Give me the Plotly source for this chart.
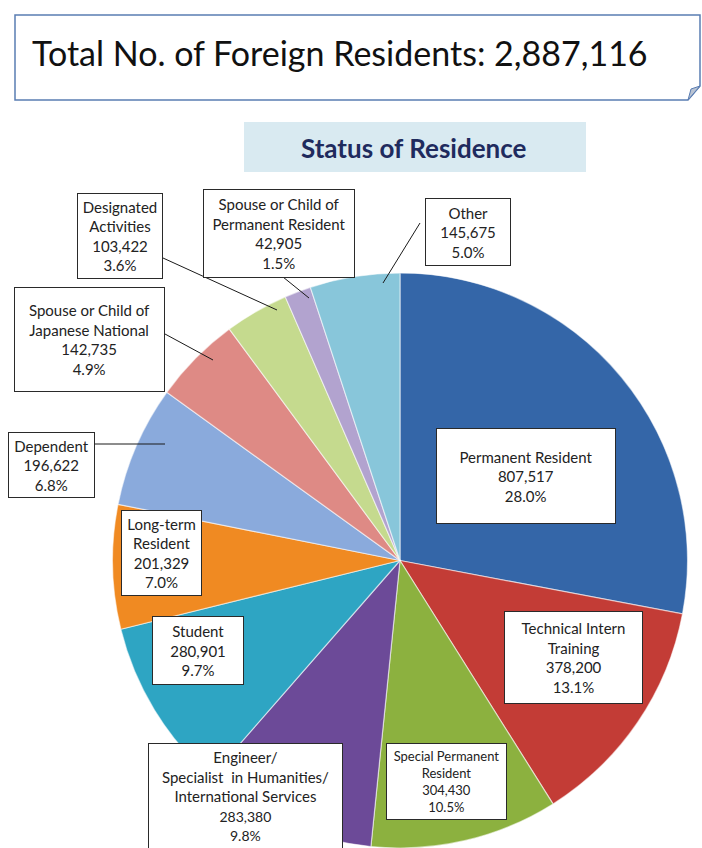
import plotly.graph_objects as go

W, H = 702, 848

# ── Data ────────────────────────────────────────────────────
categories = [
    "Permanent Resident", "Technical Intern Training", "Special Permanent Resident",
    "Engineer/Specialist in Humanities/International Services", "Student",
    "Long-term Resident", "Dependent", "Spouse or Child of Japanese National",
    "Designated Activities", "Spouse or Child of Permanent Resident", "Other",
]
values = [807517, 378200, 304430, 283380, 280901, 201329, 196622, 142735, 103422, 42905, 145675]
box_titles = [
    "Permanent Resident", "Technical Intern<br>Training", "Special Permanent<br>Resident",
    "Engineer/<br>Specialist  in Humanities/<br>International Services", "Student",
    "Long-term<br>Resident", "Dependent", "Spouse or Child of<br>Japanese National",
    "Designated<br>Activities", "Spouse or Child of<br>Permanent Resident", "Other",
]
colors = ["#3466a8", "#c33c36", "#8cb13f", "#6c4a98", "#2ea5c3", "#f08a22",
          "#8aaadc", "#de8a85", "#c5da8e", "#b2a3cf", "#88c6da"]

total = sum(values)

# ── Label boxes (pixels: centre x, centre y, width, height, font size, number size) ──
boxes = [
    (526, 476, 180, 96, 15, 15),
    (573, 657, 139, 93, 15, 15),
    (446, 781, 121, 77, 13, 13),
    (245, 796, 195, 106, 15, 14),
    (198, 650, 92, 69, 15, 15),
    (161, 553, 81, 86, 15, 15),
    (51, 465, 87, 66, 15, 15),
    (90, 339, 151, 105, 15, 15),
    (120, 236, 86, 86, 15, 15),
    (279, 233, 152, 89, 15, 15),
    (468, 232, 86, 68, 15, 15),
]
# leader lines (pixels)
leaders = [
    (94, 444, 165, 444),
    (165, 334, 213, 360),
    (163, 258, 277, 310),
    (283, 277, 309, 298),
    (420, 223, 383, 283),
]


def px(x, y):
    return x / W, 1 - y / H


fig = go.Figure()

x0, _ = px(108, 0)
x1, _ = px(692, 0)
_, y1 = px(0, 273)
fig.add_trace(go.Pie(
    labels=categories, values=values, sort=False, direction="clockwise", rotation=0,
    marker=dict(colors=colors, line=dict(color="rgba(255,255,255,0.55)", width=1.2)),
    textinfo="none", hoverinfo="label+value+percent",
    domain=dict(x=[x0, x1], y=[0, y1]),
    showlegend=False,
))

# ── Label boxes ──────────────────────────────────────────────
for title, v, (cx, cy, bw, bh, fs, ns) in zip(box_titles, values, boxes):
    ax, ay = px(cx, cy)
    nums = f"{v:,}<br>{v / total * 100:.1f}%"
    if ns != fs:
        nums = (f"<span style='font-size:{ns}px'>{v:,}</span><br>"
                f"<span style='font-size:{ns}px'>{v / total * 100:.1f}%</span>")
    fig.add_annotation(
        x=ax, y=ay, xref="paper", yref="paper", xanchor="center", yanchor="middle",
        text=f"{title}<br>{nums}",
        showarrow=False, align="center", valign="middle",
        width=bw - 2, height=bh - 2,
        bgcolor="white", bordercolor="#2a2a2a", borderwidth=1, borderpad=0,
        font=dict(family="Lato", size=fs, color="#222222"),
    )

for (lx0, ly0, lx1, ly1) in leaders:
    a, b = px(lx0, ly0)
    c, d = px(lx1, ly1)
    fig.add_shape(type="line", xref="paper", yref="paper", x0=a, y0=b, x1=c, y1=d,
                  line=dict(color="#1a1a1a", width=1))

# ── Title box with folded corner ─────────────────────────────
pts = [px(15, 15), px(700, 15), px(700, 86), px(688, 100), px(15, 100)]
path = "M " + " L ".join(f"{a},{b}" for a, b in pts) + " Z"
fig.add_shape(type="path", path=path, xref="paper", yref="paper",
              fillcolor="white", line=dict(color="#5a7db3", width=1.5))
fold = [px(688, 100), px(691, 89), px(700, 86)]
fig.add_shape(type="path", path="M " + " L ".join(f"{a},{b}" for a, b in fold) + " Z",
              xref="paper", yref="paper", fillcolor="#b9c3d2",
              line=dict(color="#5a7db3", width=1))
tx, ty = px(30, 52)
fig.add_annotation(x=tx, y=ty, xref="paper", yref="paper", xanchor="left", yanchor="middle",
                   text="Total No. of Foreign Residents: 2,887,116", showarrow=False,
                   font=dict(family="Lato", size=34, color="#111111"))

# ── Subtitle box ─────────────────────────────────────────────
sa, sb = px(244, 122)
sc, sd = px(586, 172)
fig.add_shape(type="rect", xref="paper", yref="paper", x0=sa, y0=sb, x1=sc, y1=sd,
              fillcolor="#d9eaf1", line=dict(width=0))
stx, sty = px(414, 148)
fig.add_annotation(x=stx, y=sty, xref="paper", yref="paper", xanchor="center", yanchor="middle",
                   text="<b>Status of Residence</b>", showarrow=False,
                   font=dict(family="Lato", size=26, color="#1f2b5e"))

fig.update_layout(
    width=W, height=H,
    margin=dict(l=0, r=0, t=0, b=0),
    paper_bgcolor="white", plot_bgcolor="white",
)

fig.write_html("out.html", config={"displayModeBar": False},
               post_script="document.body.style.margin='0';")
